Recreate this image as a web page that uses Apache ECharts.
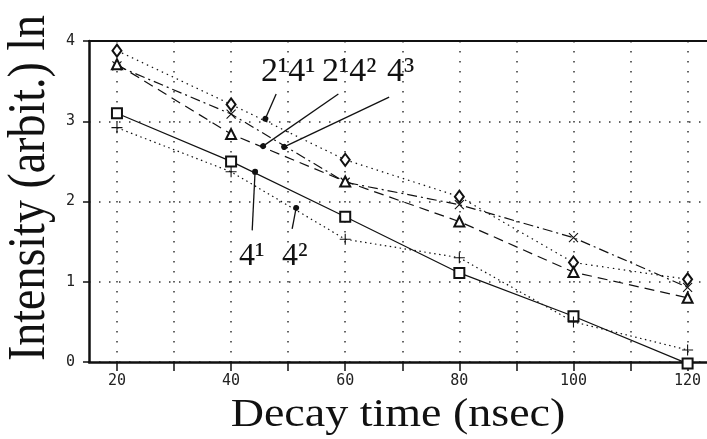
<!DOCTYPE html>
<html>
<head>
<meta charset="utf-8">
<script src="https://cdn.jsdelivr.net/npm/echarts@6/dist/echarts.min.js"></script>
<style>
html, body { margin: 0; padding: 0; background: #fff; }
#chart { width: 707px; height: 439px; }
</style>
</head>
<body>
<div id="chart"></div>
<script>
// decay times (nsec)
var times = [20, 40, 60, 80, 100, 120];
// ln intensity per band
var s2141 = [3.88, 3.21, 2.52, 2.06, 1.24, 1.03];
var s2142 = [3.71, 2.84, 2.25, 1.75, 1.12, 0.80];
var s43   = [3.69, 3.09, 2.24, 1.96, 1.55, 0.93];
var s41   = [3.10, 2.50, 1.81, 1.11, 0.57, -0.02];
var s42   = [2.92, 2.37, 1.53, 1.30, 0.50, 0.15];
// ticks
var xTicks = [20, 30, 40, 50, 60, 70, 80, 90, 100, 110, 120];
var xLabels = [20, 40, 60, 80, 100, 120];
// leader lines: dot on the curve -> end near the label
var leaders = [
	[[46.0, 3.03], [47.9, 3.34]],
	[[45.6, 2.69], [58.8, 3.34]],
	[[49.3, 2.68], [67.7, 3.30]],
	[[44.2, 2.37], [43.7, 1.64]],
	[[51.4, 1.92], [50.7, 1.66]]
];

var ink = '#111';
var pair = function(ys){
	return times.map(function(t, i){ return [t, ys[i]]; });
};

var line = function(name, ys, symbol, size, dash){
	return {
		name: name, type: 'line', data: pair(ys),
		symbol: symbol, symbolSize: size, clip: false,
		itemStyle: {color: ink, borderColor: ink, borderWidth: 1.1},
		lineStyle: {color: ink, width: 1.2, type: dash},
		emphasis: {disabled: true}
	};
};

var crossPath = 'path://M0,0L10,10M10,0L0,10';
var plusPath = 'path://M5,0L5,10M0,5L10,5';

var serif = '"Liberation Serif", "Times New Roman", serif';
var mono = '"DejaVu Sans Mono", monospace';
var dots = [1.5, 8.5];

var series = [
	line('2¹4¹', s2141, 'emptyDiamond', [9, 12], [1.5, 4]),
	line('4³', s43, crossPath, 9, [10, 4, 2, 4]),
	line('2¹4²', s2142, 'emptyTriangle', 10, [10, 6]),
	line('4¹', s41, 'emptyRect', 10, 'solid'),
	line('4²', s42, plusPath, 11, [1.5, 3.5])
];
// plus / cross are stroke only
series[1].itemStyle.color = 'none';
series[4].itemStyle.color = 'none';

// leader lines
series.push({
	type: 'line', data: [], silent: true,
	markLine: {
		silent: true, animation: false,
		symbol: ['circle', 'none'], symbolSize: 6,
		label: {show: false},
		lineStyle: {color: ink, width: 1.3, type: 'solid'},
		data: leaders.map(function(l){
			return [{coord: l[0]}, {coord: l[1]}];
		})
	}
});

var chart = echarts.init(document.getElementById('chart'));
chart.setOption({
	animation: false,
	backgroundColor: '#fff',
	grid: {left: 89, right: 0, top: 41, bottom: 77, containLabel: false, outerBoundsMode: 'none'},
	xAxis: [{
		type: 'value', min: 15.1, max: 123.4,
		axisLine: {show: true, lineStyle: {color: ink, width: 2.5}},
		axisTick: {show: true, length: 9, customValues: xTicks, lineStyle: {color: ink, width: 1.5}},
		axisLabel: {customValues: xLabels, margin: 12, color: '#222', fontFamily: mono, fontSize: 15},
		splitLine: {show: true, lineStyle: {color: '#333', width: 1.5, type: dots}}
	}, {
		type: 'value', position: 'top', min: 15.1, max: 123.4,
		axisLine: {show: true, lineStyle: {color: ink, width: 2}},
		axisTick: {show: false}, axisLabel: {show: false}, splitLine: {show: false}
	}],
	yAxis: {
		type: 'value', min: 0, max: 4, interval: 1,
		axisLine: {show: true, lineStyle: {color: ink, width: 2.5}},
		axisTick: {show: true, length: 6, lineStyle: {color: ink, width: 1.5}},
		axisLabel: {margin: 14, color: '#222', fontFamily: mono, fontSize: 15},
		splitLine: {show: true, lineStyle: {color: '#333', width: 1.5, type: dots}}
	},
	series: series,
	graphic: [
		{type: 'text', x: 398, y: 415, scaleX: 1.15, silent: true,
			style: {text: 'Decay time (nsec)', font: '40px ' + serif, fill: ink, align: 'center', verticalAlign: 'middle'}},
		{type: 'text', x: 30, y: 188, rotation: Math.PI / 2, scaleY: 1.15, silent: true,
			style: {text: 'Intensity (arbit.) ln', font: '46px ' + serif, fill: ink, align: 'center', verticalAlign: 'middle'}},
		{type: 'text', x: 261, y: 72, silent: true,
			style: {text: '2¹4¹', font: '34px ' + serif, fill: ink, align: 'left', verticalAlign: 'middle'}},
		{type: 'text', x: 322, y: 72, silent: true,
			style: {text: '2¹4²', font: '34px ' + serif, fill: ink, align: 'left', verticalAlign: 'middle'}},
		{type: 'text', x: 387, y: 72, silent: true,
			style: {text: '4³', font: '34px ' + serif, fill: ink, align: 'left', verticalAlign: 'middle'}},
		{type: 'text', x: 239, y: 257, silent: true,
			style: {text: '4¹', font: '32px ' + serif, fill: ink, align: 'left', verticalAlign: 'middle'}},
		{type: 'text', x: 282, y: 257, silent: true,
			style: {text: '4²', font: '32px ' + serif, fill: ink, align: 'left', verticalAlign: 'middle'}}
	]
});
</script>
</body>
</html>
